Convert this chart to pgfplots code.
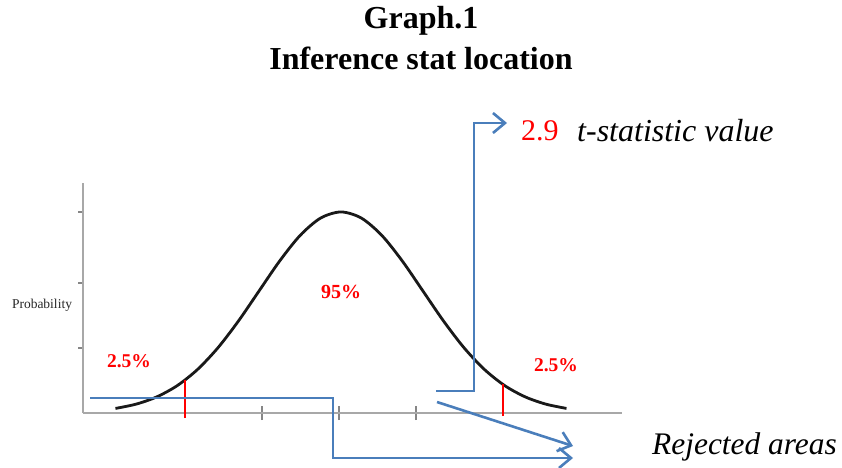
\documentclass[border=0pt]{standalone}
\usepackage{pgfplots}
\pgfplotsset{compat=1.18}
\usepackage{fontspec}
\setmainfont{Liberation Serif}
\usetikzlibrary{arrows.meta}
\definecolor{arrowblue}{HTML}{4A7EBB}
\definecolor{axisgray}{HTML}{A8A8A8}

\begin{document}
\begin{tikzpicture}[x=1pt,y=1pt]
	\useasboundingbox (0,0) rectangle (842,467);

	% title
	\node[font=\fontsize{32}{36}\selectfont\bfseries] at (421,446) {Graph.1};
	\node[font=\fontsize{32}{36}\selectfont\bfseries] at (421,409) {Inference stat location};

	\begin{axis}[
			at={(83pt,54pt)}, anchor=south west,
			scale only axis,
			width=539pt, height=230pt,
			xmin=-3.146, xmax=3.427,
			ymin=0, ymax=1.144,
			axis x line*=bottom, axis y line*=left,
			axis line style={-, draw=axisgray, line width=2.8pt},
			xtick={-0.963,-0.024,0.915},
			ytick={0.323,0.647,1.0},
			xticklabels={}, yticklabels={},
			xtick align=center, ytick align=outside,
			major tick length=14pt,
			y tick style={/pgfplots/major tick length=5pt},
			tick style={draw=axisgray!80!black, line width=1.3pt},
			clip=false,
		]

		% normal curve (z units, peak scaled to 1)
		\addplot[black!90, line width=2.8pt, smooth] coordinates {
				(-2.75,0.0228) (-2.5,0.0439) (-2.25,0.0796) (-2.0,0.1353)
				(-1.75,0.2163) (-1.5,0.3247) (-1.25,0.4578) (-1.0,0.6065)
				(-0.75,0.7548) (-0.5,0.8825) (-0.25,0.9692) (0,1)
				(0.25,0.9692) (0.5,0.8825) (0.75,0.7548) (1.0,0.6065)
				(1.25,0.4578) (1.5,0.3247) (1.75,0.2163) (2.0,0.1353)
				(2.25,0.0796) (2.5,0.0439) (2.75,0.0228)
			};

		% critical values
		\addplot[red, line width=1.8pt] coordinates {(-1.902,-0.025) (-1.902,0.1645)};
		\addplot[red, line width=1.8pt] coordinates {(1.976,-0.015) (1.976,0.142)};

	\end{axis}

	% labels
	\node[font=\fontsize{13.5}{15}\selectfont, text=black!85] at (42,162) {Probability};
	\node[font=\fontsize{20}{24}\selectfont\bfseries, text=red] at (341,175) {95\%};
	\node[font=\fontsize{19.5}{23}\selectfont\bfseries, text=red] at (129,106) {2.5\%};
	\node[font=\fontsize{19.5}{23}\selectfont\bfseries, text=red] at (556,102) {2.5\%};

	\node[font=\fontsize{30}{34}\selectfont, text=red, anchor=west, inner sep=0pt] at (521,336) {2.9};
	\node[font=\fontsize{32}{36}\selectfont\itshape, anchor=west, inner sep=0pt] at (577,336) {t-statistic value};
	\node[font=\fontsize{31.4}{36}\selectfont\itshape, anchor=west, inner sep=0pt] at (652,20) {Rejected areas};

	% arrows
	\begin{scope}[arrowblue, line width=2.6pt, line join=miter,
			-{Straight Barb[length=12pt, width=20pt]}]
		\draw (90,69) -- (333,69) -- (333,9) -- (573,9);
		\draw (436,76) -- (474,76) -- (474,344) -- (507,344);
		\draw (437,65) -- (573,21);
	\end{scope}
\end{tikzpicture}
\end{document}
